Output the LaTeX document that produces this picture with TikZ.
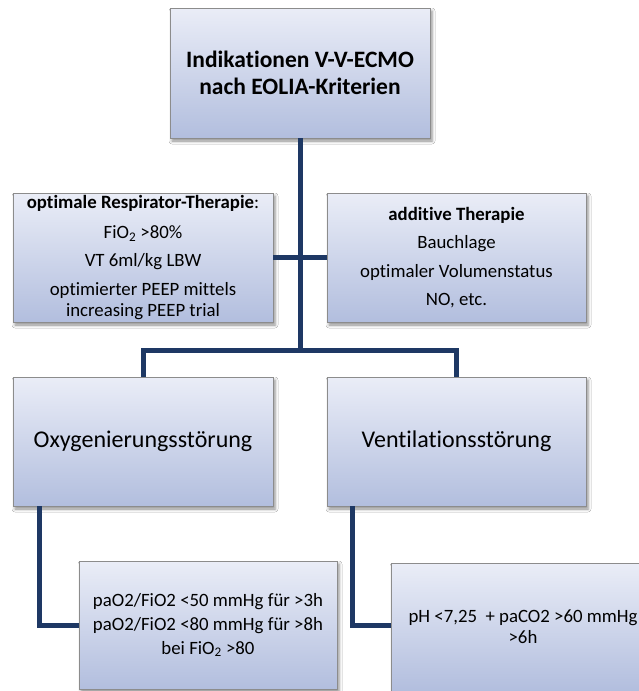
\documentclass[tikz,border=0pt]{standalone}
\usepackage{fontspec}
\setmainfont{Carlito}[Ligatures=NoCommon]
\usetikzlibrary{shadows.blur,calc}
\definecolor{boxtop}{RGB}{234,237,247}
\definecolor{boxbot}{RGB}{178,190,222}
\definecolor{boxline}{RGB}{140,140,140}
\definecolor{conn}{RGB}{30,56,100}
\tikzset{
  flowbox/.style={draw=boxline, line width=0.9pt, top color=boxtop, bottom color=boxbot,
    minimum width=260pt, minimum height=130pt, align=center, inner sep=2pt,
    blur shadow={shadow xshift=2pt, shadow yshift=-3pt, shadow blur radius=3pt, shadow opacity=45}},
  midtext/.style={font=\fontsize{18.8}{21}\selectfont},
  bigtext/.style={font=\fontsize{24}{28}\selectfont},
  connline/.style={draw=conn, line width=5pt, line join=miter}
}
\begin{document}
\begin{tikzpicture}[x=1pt,y=-1pt]
\clip (0,0) rectangle (639,691);
\fill[white] (0,0) rectangle (639,691);
\node[flowbox, font=\bfseries\fontsize{23.5}{27}\selectfont] (top) at (300,73) {Indikationen V-V-ECMO\\nach EOLIA-Kriterien};
\node[flowbox, midtext, minimum width=260pt, minimum height=129pt] (ml) at (143,257.5)
  {\textbf{optimale Respirator-Therapie}:\\[9pt] FiO\textsubscript{2} >80\%\\[6.5pt] VT 6ml/kg LBW\\[8pt] optimierter PEEP mittels\\increasing PEEP trial};
\node[flowbox, midtext, minimum width=259pt, minimum height=129pt] (mr) at (456.5,257.5)
  {\textbf{additive Therapie}\\[7.5pt] Bauchlage\\[7.5pt] optimaler Volumenstatus\\[7.5pt] NO, etc.};
\node[flowbox, bigtext, minimum height=129pt] (oxy) at (143,441.5) {Oxygenierungsstörung};
\node[flowbox, bigtext, minimum width=259pt, minimum height=129pt] (vent) at (456.5,441.5) {Ventilationsstörung};
\node[flowbox, midtext, minimum width=258pt, minimum height=128pt] (bl) at (208,625)
  {paO2/FiO2 <50 mmHg für >3h\\[3pt] paO2/FiO2 <80 mmHg für >8h\\[3pt] bei FiO\textsubscript{2} >80};
\node[flowbox, midtext, minimum width=264pt, minimum height=128pt] (br) at (523,627)
  {pH <7,25 \ + paCO2 >60 mmHg\\ >6h};
\coordinate (j) at (300,350);
\draw[connline] (top.south) -- (j);
\draw[connline] (ml.east) -- (mr.west);
\draw[connline] (oxy.north) |- (j) -| (vent.north);
\coordinate (oxyleg) at ($(oxy.south west)+(27,0)$);
\coordinate (ventleg) at ($(vent.south west)+(26,0)$);
\draw[connline] (oxyleg) |- (bl.west);
\draw[connline] (ventleg) |- ($(br.west)+(0,-2)$);
\end{tikzpicture}
\end{document}
